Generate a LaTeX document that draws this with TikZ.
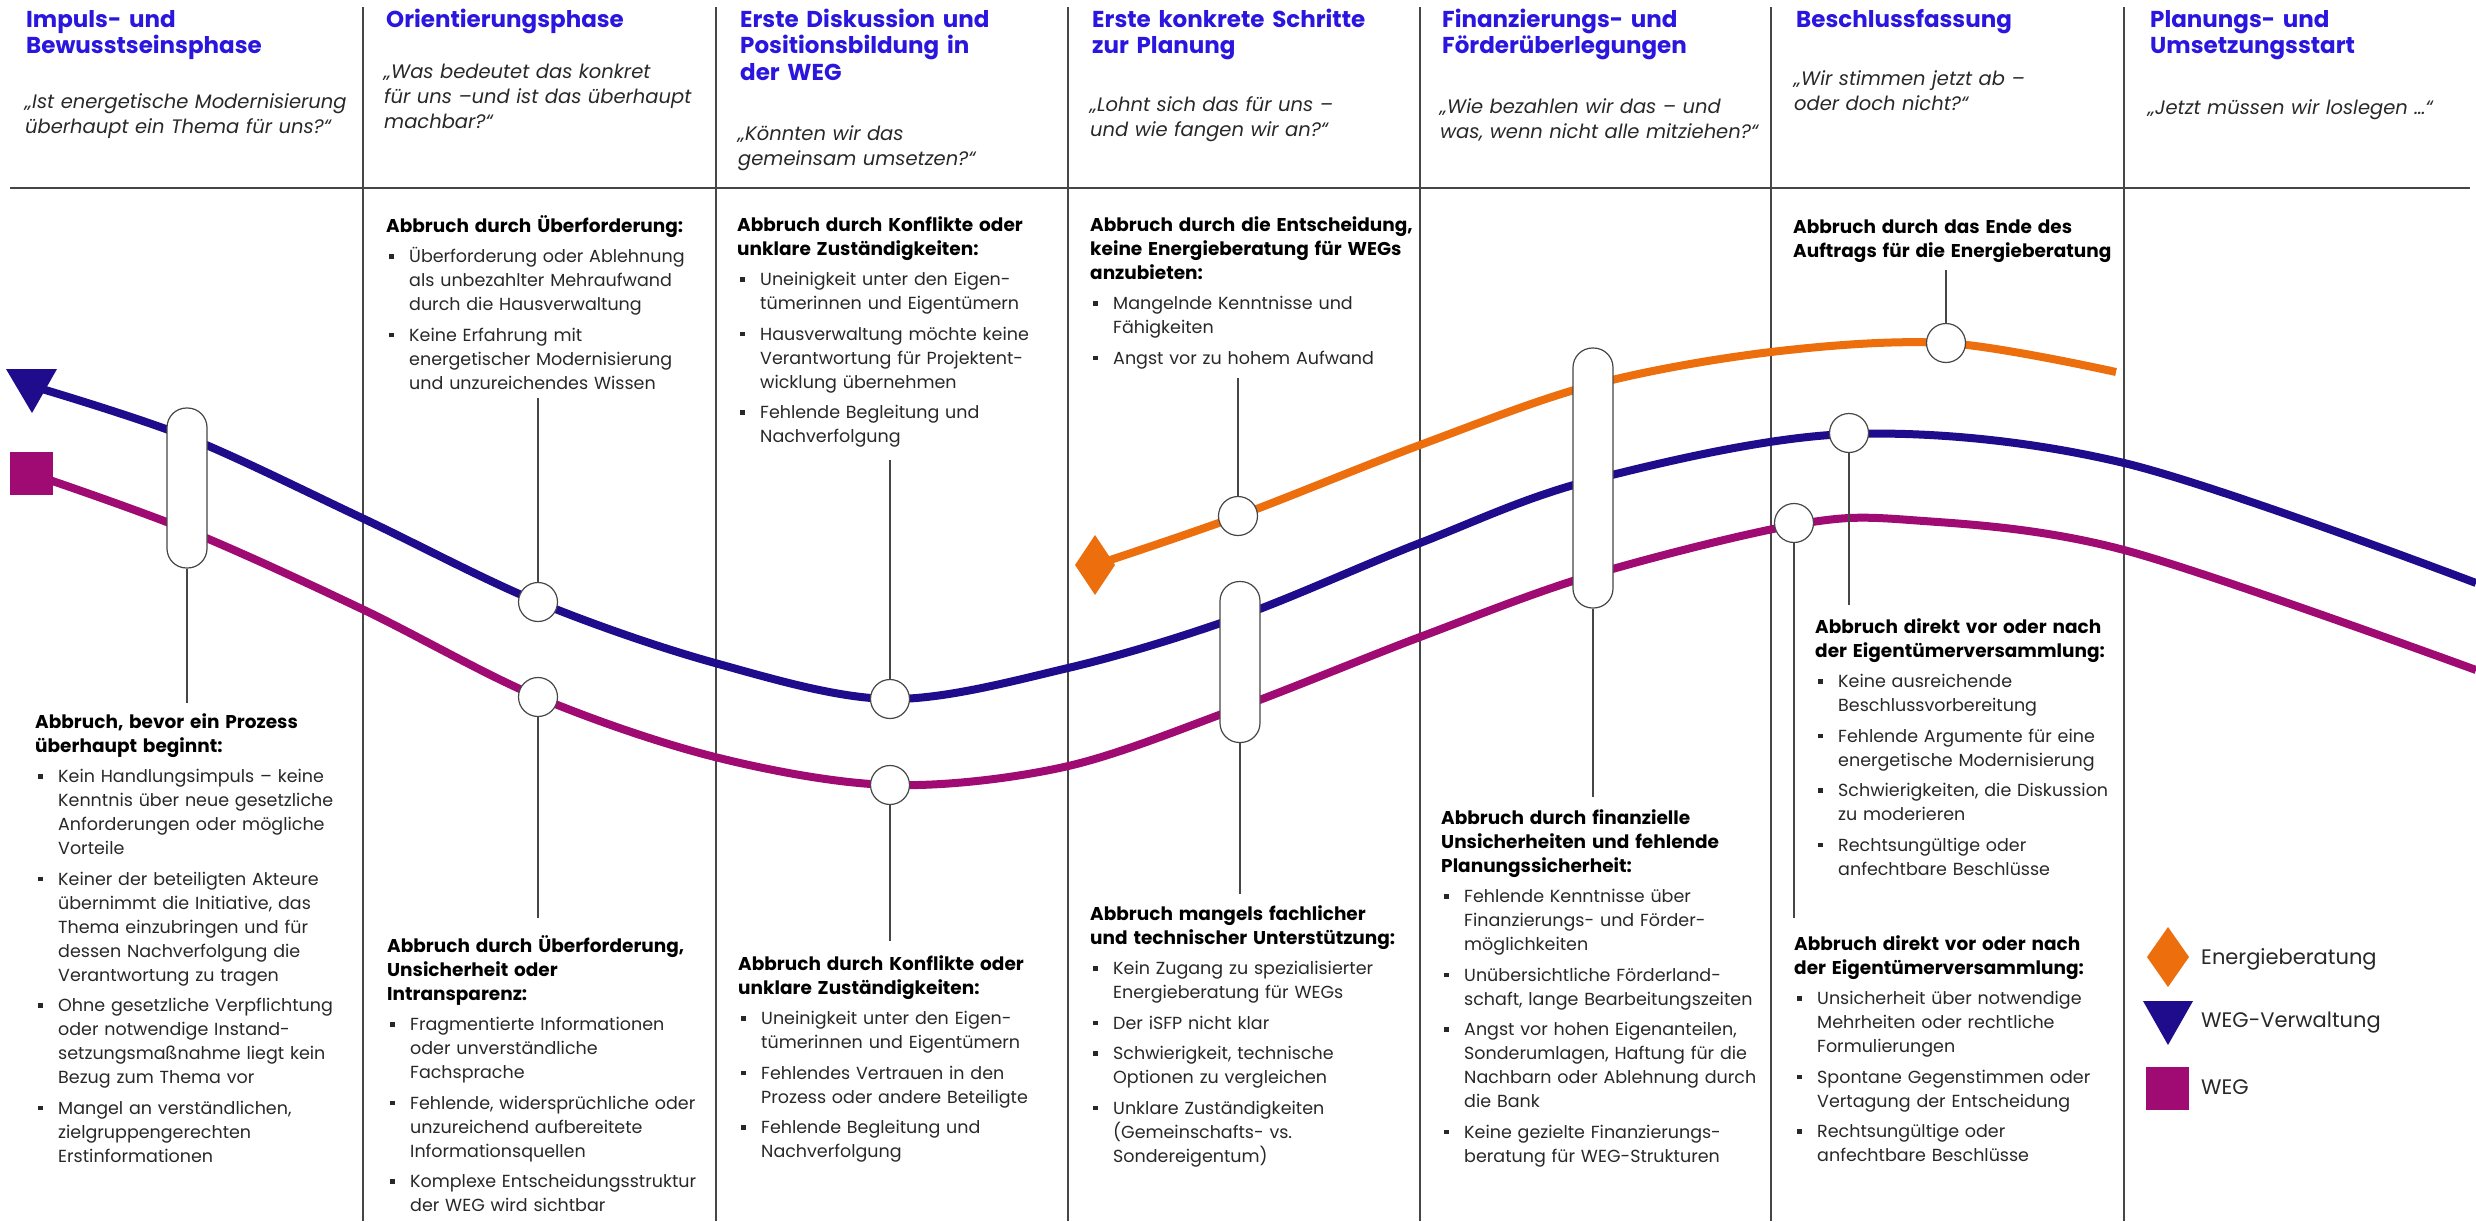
\documentclass[tikz,border=0pt]{standalone}
\usepackage{fontspec}
\setmainfont{Poppins}
\usetikzlibrary{shapes.geometric}
\definecolor{navy}{RGB}{30,12,140}
\definecolor{mag}{RGB}{160,10,115}
\definecolor{orng}{RGB}{236,110,12}
\definecolor{ttl}{RGB}{42,22,222}
\definecolor{txt}{RGB}{40,40,40}
\definecolor{rulec}{RGB}{70,70,70}
\newcommand{\hd}[1]{\noindent{\fontsize{18.5}{24}\selectfont\bfseries\color{black}\rule{0pt}{16pt}#1\par}}
\newcommand{\itm}[1]{\par\vspace{6.5pt}\noindent\hangindent=23pt\hangafter=1\makebox[23pt][l]{\hspace{3pt}\rule[4pt]{4.5pt}{4.5pt}}#1\par}
\tikzset{
  blk/.style={anchor=north west, inner sep=0pt, text width=400pt, align=left, font=\fontsize{17.5}{24}\selectfont, text=txt},
  ttlnode/.style={anchor=north west, inner sep=0pt, text width=340pt, align=left, font=\bfseries\fontsize{23}{26.5}\selectfont, text=ttl},
  qnode/.style={anchor=north west, inner sep=0pt, text width=340pt, align=left, font=\itshape\fontsize{19.5}{25}\selectfont, text=txt},
  capsule/.style={rectangle, draw=rulec, fill=white, line width=1.2pt, rounded corners=19.5pt, minimum width=40pt, inner sep=0pt},
  dot/.style={circle, draw=rulec, fill=white, line width=1.2pt, minimum size=39pt, inner sep=0pt},
  conn/.style={draw=rulec, line width=1.4pt},
  colline/.style={draw=rulec, line width=1.4pt},
  curve/.style={line width=8pt, line cap=butt},
  leg/.style={anchor=west, inner sep=0pt, font=\fontsize{21}{24}\selectfont, text=txt}
}
\begin{document}
\begin{tikzpicture}[x=1pt,y=-1pt]
\useasboundingbox (0,0) rectangle (2476,1221);
\fill[white] (0,0) rectangle (2476,1221);

% column lines and separator
\foreach \cx in {363,716,1068,1420,1771,2124}{\draw[colline] (\cx,7) -- (\cx,1221);}
\draw[draw=rulec, line width=2.5pt] (10,188) -- (2470,188);

% curves
\draw[curve, navy] plot[smooth, tension=0.55] coordinates {(32,386) (187,437) (362,518) (538,602) (715,663) (890,699) (1068,668) (1238,617) (1420,543) (1592,480) (1849,434) (2124,463) (2476,583)};
\draw[curve, mag] plot[smooth, tension=0.55] coordinates {(32,474) (187,530) (362,609) (538,697) (715,757) (890,785) (1064,767) (1238,708) (1420,637) (1592,575) (1794,525) (1910,520) (2124,550) (2476,670)};
\draw[curve, orng] plot[smooth, tension=0.55] coordinates {(1095,565) (1238,516) (1420,445) (1592,385) (1771,352) (1946,343) (2116,372)};

% start markers
\fill[navy] (6,369) -- (57,369) -- (32,413) -- cycle;
\fill[mag] (10,452) rectangle (53,495);
\fill[orng] (1095,535) -- (1115,565) -- (1095,595) -- (1075,565) -- cycle;

% capsules and circles
\node[capsule, minimum height=160pt] (cap1) at (187,488) {};
\node[capsule, minimum height=161pt] (cap4) at (1240,662) {};
\node[capsule, minimum height=260pt] (cap5) at (1593,478) {};
\node[dot] (c2a) at (538,602) {};
\node[dot] (c2b) at (538,697) {};
\node[dot] (c3a) at (890,699) {};
\node[dot] (c3b) at (890,785) {};
\node[dot] (c4) at (1238,516) {};
\node[dot] (c6o) at (1946,343) {};
\node[dot] (c6b) at (1849,433) {};
\node[dot] (c6m) at (1794,523) {};

% connector ends
\coordinate (k1) at (187,703);
\coordinate (k2a) at (538,398);
\coordinate (k2b) at (538,918);
\coordinate (k3a) at (890,460);
\coordinate (k3b) at (890,941);
\coordinate (k4a) at (1238,378);
\coordinate (k4b) at (1240,894);
\coordinate (k5) at (1593,797);
\coordinate (k6o) at (1946,270);
\coordinate (k6b) at (1849,605);
\coordinate (k6m) at (1794,918);

\draw[conn] (cap1.south) -- (k1);
\draw[conn] (c2a.north) -- (k2a);
\draw[conn] (c2b.south) -- (k2b);
\draw[conn] (c3a.north) -- (k3a);
\draw[conn] (c3b.south) -- (k3b);
\draw[conn] (c4.north) -- (k4a);
\draw[conn] (cap4.south) -- (k4b);
\draw[conn] (cap5.south) -- (k5);
\draw[conn] (c6o.north) -- (k6o);
\draw[conn] (c6b.south) -- (k6b);
\draw[conn] (c6m.south) -- (k6m);

% titles
\node[ttlnode] (t1) at (26,7) {\rule{0pt}{20pt}Impuls- und\newline Bewusstseinsphase};
\node[ttlnode] (t2) at (386,7) {\rule{0pt}{20pt}Orientierungsphase};
\node[ttlnode] (t3) at (740,7) {\rule{0pt}{20pt}Erste Diskussion und\newline Positionsbildung in\newline der WEG};
\node[ttlnode] (t4) at (1092,7) {\rule{0pt}{20pt}Erste konkrete Schritte\newline zur Planung};
\node[ttlnode] (t5) at (1442,7) {\rule{0pt}{20pt}Finanzierungs- und\newline Förderüberlegungen};
\node[ttlnode] (t6) at (1796,7) {\rule{0pt}{20pt}Beschlussfassung};
\node[ttlnode] (t7) at (2150,7) {\rule{0pt}{20pt}Planungs- und\newline Umsetzungsstart};

% quotes
\node[qnode] (q1) at (25,91) {\rule{0pt}{17pt}„Ist energetische Modernisierung\newline überhaupt ein Thema für uns?“};
\node[qnode] (q2) at (384,61) {\rule{0pt}{17pt}„Was bedeutet das konkret\newline für uns –und ist das überhaupt\newline machbar?“};
\node[qnode] (q3) at (738,123) {\rule{0pt}{17pt}„Könnten wir das\newline gemeinsam umsetzen?“};
\node[qnode] (q4) at (1090,94) {\rule{0pt}{17pt}„Lohnt sich das für uns –\newline und wie fangen wir an?“};
\node[qnode] (q5) at (1440,96) {\rule{0pt}{17pt}„Wie bezahlen wir das – und\newline was, wenn nicht alle mitziehen?“};
\node[qnode] (q6) at (1794,68) {\rule{0pt}{17pt}„Wir stimmen jetzt ab –\newline oder doch nicht?“};
\node[qnode] (q7) at (2148,97) {\rule{0pt}{17pt}„Jetzt müssen wir loslegen …“};

% text blocks
\node[blk] (b1) at (35,712) {%
\hd{Abbruch, bevor ein Prozess\newline überhaupt beginnt:}
\itm{Kein Handlungsimpuls – keine\newline Kenntnis über neue gesetzliche\newline Anforderungen oder mögliche\newline Vorteile}
\itm{Keiner der beteiligten Akteure\newline übernimmt die Initiative, das\newline Thema einzubringen und für\newline dessen Nachverfolgung die\newline Verantwortung zu tragen}
\itm{Ohne gesetzliche Verpflichtung\newline oder notwendige Instand-\newline setzungsmaßnahme liegt kein\newline Bezug zum Thema vor}
\itm{Mangel an verständlichen,\newline zielgruppengerechten\newline Erstinformationen}};

\node[blk] (b2t) at (386,215) {%
\hd{Abbruch durch Überforderung:}
\itm{Überforderung oder Ablehnung\newline als unbezahlter Mehraufwand\newline durch die Hausverwaltung}
\itm{Keine Erfahrung mit\newline energetischer Modernisierung\newline und unzureichendes Wissen}};

\node[blk] (b2l) at (387,935) {%
\hd{Abbruch durch Überforderung,\newline Unsicherheit oder\newline Intransparenz:}
\itm{Fragmentierte Informationen\newline oder unverständliche\newline Fachsprache}
\itm{Fehlende, widersprüchliche oder\newline unzureichend aufbereitete\newline Informationsquellen}
\itm{Komplexe Entscheidungsstruktur\newline der WEG wird sichtbar}};

\node[blk] (b3t) at (737,215) {%
\hd{Abbruch durch Konflikte oder\newline unklare Zuständigkeiten:}
\itm{Uneinigkeit unter den Eigen-\newline tümerinnen und Eigentümern}
\itm{Hausverwaltung möchte keine\newline Verantwortung für Projektent-\newline wicklung übernehmen}
\itm{Fehlende Begleitung und\newline Nachverfolgung}};

\node[blk] (b3l) at (738,954) {%
\hd{Abbruch durch Konflikte oder\newline unklare Zuständigkeiten:}
\itm{Uneinigkeit unter den Eigen-\newline tümerinnen und Eigentümern}
\itm{Fehlendes Vertrauen in den\newline Prozess oder andere Beteiligte}
\itm{Fehlende Begleitung und\newline Nachverfolgung}};

\node[blk] (b4t) at (1090,215) {%
\hd{Abbruch durch die Entscheidung,\newline keine Energieberatung für WEGs\newline anzubieten:}
\itm{Mangelnde Kenntnisse und\newline Fähigkeiten}
\itm{Angst vor zu hohem Aufwand}};

\node[blk] (b4l) at (1090,904) {%
\hd{Abbruch mangels fachlicher\newline und technischer Unterstützung:}
\itm{Kein Zugang zu spezialisierter\newline Energieberatung für WEGs}
\itm{Der iSFP nicht klar}
\itm{Schwierigkeit, technische\newline Optionen zu vergleichen}
\itm{Unklare Zuständigkeiten\newline (Gemeinschafts- vs.\newline Sondereigentum)}};

\node[blk] (b5l) at (1441,808) {%
\hd{Abbruch durch finanzielle\newline Unsicherheiten und fehlende\newline Planungssicherheit:}
\itm{Fehlende Kenntnisse über\newline Finanzierungs- und Förder-\newline möglichkeiten}
\itm{Unübersichtliche Förderland-\newline schaft, lange Bearbeitungszeiten}
\itm{Angst vor hohen Eigenanteilen,\newline Sonderumlagen, Haftung für die\newline Nachbarn oder Ablehnung durch\newline die Bank}
\itm{Keine gezielte Finanzierungs-\newline beratung für WEG-Strukturen}};

\node[blk] (b6t) at (1793,217) {%
\hd{Abbruch durch das Ende des\newline Auftrags für die Energieberatung}};

\node[blk] (b6m) at (1815,617) {%
\hd{Abbruch direkt vor oder nach\newline der Eigentümerversammlung:}
\itm{Keine ausreichende\newline Beschlussvorbereitung}
\itm{Fehlende Argumente für eine\newline energetische Modernisierung}
\itm{Schwierigkeiten, die Diskussion\newline zu moderieren}
\itm{Rechtsungültige oder\newline anfechtbare Beschlüsse}};

\node[blk] (b6l) at (1794,934) {%
\hd{Abbruch direkt vor oder nach\newline der Eigentümerversammlung:}
\itm{Unsicherheit über notwendige\newline Mehrheiten oder rechtliche\newline Formulierungen}
\itm{Spontane Gegenstimmen oder\newline Vertagung der Entscheidung}
\itm{Rechtsungültige oder\newline anfechtbare Beschlüsse}};

% legend
\fill[orng] (2168,927) -- (2189,957) -- (2168,987) -- (2147,957) -- cycle;
\fill[navy] (2143,1001) -- (2193,1001) -- (2168,1045) -- cycle;
\fill[mag] (2146,1067) rectangle (2189,1110);
\node[leg] (l1) at (2201,959) {Energieberatung};
\node[leg] (l2) at (2201,1023) {WEG-Verwaltung};
\node[leg] (l3) at (2201,1087) {WEG};
\end{tikzpicture}
\end{document}
